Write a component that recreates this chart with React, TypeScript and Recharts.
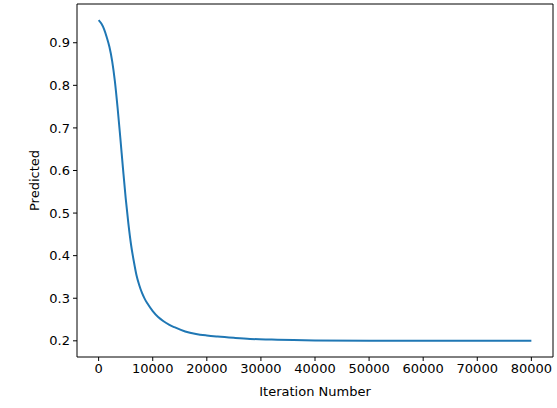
import { LineChart, Line, XAxis, YAxis, Label, ReferenceLine } from "recharts";

const iterations = [
  0, 500, 1000, 1500, 2000, 2500, 3000, 3500, 4000, 4500, 5000, 5500, 6000,
  6500, 7000, 7500, 8000, 8500, 9000, 10000, 11000, 12000, 13000, 14000, 16000,
  18000, 20000, 22000, 25000, 28000, 32000, 36000, 40000, 50000, 60000, 70000,
  80000,
];

const predicted = [
  0.953, 0.945, 0.932, 0.913, 0.89, 0.857, 0.81, 0.748, 0.678, 0.605, 0.535,
  0.475, 0.425, 0.387, 0.354, 0.331, 0.313, 0.299, 0.288, 0.27, 0.256, 0.246,
  0.238, 0.232, 0.222, 0.216, 0.2125, 0.21, 0.207, 0.2045, 0.203, 0.2018, 0.201,
  0.2004, 0.2001, 0.2, 0.2,
];

const xTicks = [0, 10000, 20000, 30000, 40000, 50000, 60000, 70000, 80000];
const yTicks = [0.2, 0.3, 0.4, 0.5, 0.6, 0.7, 0.8, 0.9];

const data = iterations.map((it, i) => ({ it, p: predicted[i] }));

const font = "DejaVu Sans, sans-serif";
const tick = { fontSize: 13, fill: "#000", fontFamily: font };
const axisLine = { stroke: "#000", strokeWidth: 1 };

export default function App() {
  return (
    <div style={{ position: "absolute", left: 0, top: 0, background: "#fff" }}>
      <LineChart
        width={557}
        height={408}
        data={data}
        margin={{ top: 4, right: 4, left: 0, bottom: 0 }}
      >
        <XAxis
          dataKey="it"
          type="number"
          domain={[-4000, 84000]}
          ticks={xTicks}
          tick={tick}
          tickLine={axisLine}
          axisLine={axisLine}
          tickSize={4}
          tickMargin={3}
          height={51}
          allowDataOverflow
        >
          <Label
            value="Iteration Number"
            position="center"
            dy={9}
            style={{ fontSize: 13, fill: "#000", fontFamily: font }}
          />
        </XAxis>
        <YAxis
          type="number"
          domain={[0.162, 0.991]}
          ticks={yTicks}
          tickFormatter={(v: number) => v.toFixed(1)}
          tick={tick}
          tickLine={axisLine}
          axisLine={axisLine}
          tickSize={4}
          tickMargin={3}
          width={77}
          allowDataOverflow
        >
          <Label
            value="Predicted"
            position="center"
            angle={-90}
            dx={-4}
            style={{ fontSize: 13, fill: "#000", fontFamily: font, textAnchor: "middle" }}
          />
        </YAxis>
        <ReferenceLine y={0.991} stroke="#000" strokeWidth={1} />
        <ReferenceLine x={84000} stroke="#000" strokeWidth={1} />
        <Line
          type="monotone"
          dataKey="p"
          stroke="#1f77b4"
          strokeWidth={2}
          dot={false}
          isAnimationActive={false}
        />
      </LineChart>
    </div>
  );
}
